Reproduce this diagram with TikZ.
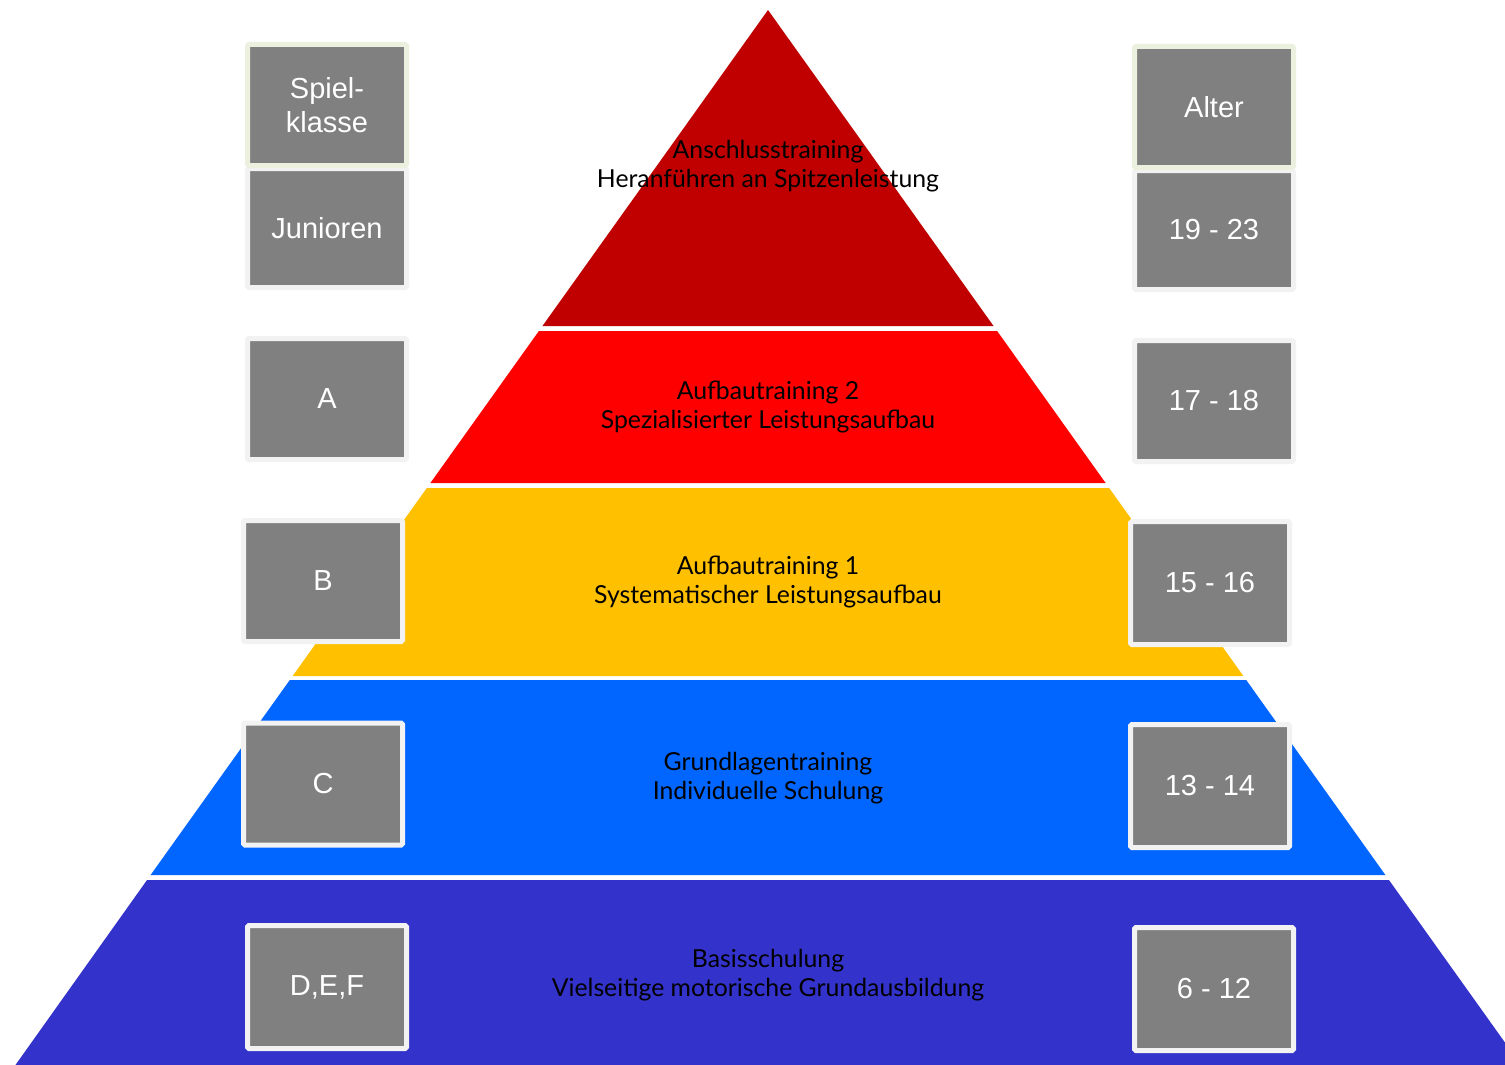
\documentclass[tikz,border=0pt]{standalone}
\usepackage{fontspec}
\setmainfont{Liberation Sans}
\newfontfamily\bandfont{Lato}
\definecolor{bandA}{HTML}{C00000}
\definecolor{bandB}{HTML}{FF0000}
\definecolor{bandC}{HTML}{FFC000}
\definecolor{bandD}{HTML}{0066FF}
\definecolor{bandE}{HTML}{3333CC}
\definecolor{boxgray}{HTML}{808080}
\definecolor{boxedge}{HTML}{F2F2F2}
\definecolor{headedge}{HTML}{EBF1DE}
\tikzset{
  gbox/.style={draw=boxedge, line width=5pt, fill=boxgray, minimum width=159pt,
    minimum height=121pt, inner sep=0pt, text=white, align=center,
    font=\fontsize{29}{34}\selectfont, rounded corners=1.5pt},
  hbox/.style={gbox, draw=headedge},
  bandtext/.style={align=center, text=black, inner sep=0pt,
    font=\bandfont\fontsize{24.8}{29}\selectfont}
}
\begin{document}
\begin{tikzpicture}[x=1pt,y=-1pt]
\useasboundingbox (0,0) rectangle (1505,1065);
\fill[white] (0,0) rectangle (1505,1065);
\begin{scope}
\clip (0,0) rectangle (1505,1065);
\fill[bandA] (768,10) -- (993.54,326) -- (542.46,326) -- cycle;
\fill[bandB] (538.89,331) -- (997.11,331) -- (1105.6,483) -- (430.4,483) -- cycle;
\fill[bandC] (426.83,488) -- (1109.17,488) -- (1243.35,676) -- (292.65,676) -- cycle;
\fill[bandD] (289.79,680) -- (1246.21,680) -- (1385.39,875) -- (150.61,875) -- cycle;
\fill[bandE] (147.05,880) -- (1388.95,880) -- (1530,1077.6) -- (6.5,1077.6) -- cycle;
\end{scope}

% band texts
\node[bandtext] (t1) at (768,166) {Anschlusstraining\\Heranführen an Spitzenleistung};
\node[bandtext] (t2) at (768,407) {Aufbautraining 2\\Spezialisierter Leistungsaufbau};
\node[bandtext] (t3) at (768,582) {Aufbautraining 1\\Systematischer Leistungsaufbau};
\node[bandtext] (t4) at (768,778) {Grundlagentraining\\Individuelle Schulung};
\node[bandtext] (t5) at (768,975) {Basisschulung\\Vielseitige motorische Grundausbildung};

% left column
\node[gbox, minimum height=119pt] (jun) at (327,228) {Junioren};
\node[hbox] (spk) at (327,105) {Spiel-\\klasse};
\node[gbox] (ka) at (327,399) {A};
\node[gbox] (kb) at (323,581) {B};
\node[gbox, minimum height=122pt] (kc) at (323,784) {C};
\node[gbox, minimum height=123pt] (kd) at (327,987) {D,E,F};

% right column
\node[gbox, minimum height=119pt] (a1) at (1214,230) {19 - 23};
\node[hbox] (alt) at (1214,107) {Alter};
\node[gbox] (a2) at (1214,401) {17 - 18};
\node[gbox, minimum height=123pt] (a3) at (1210,583) {15 - 16};
\node[gbox, minimum height=123pt] (a4) at (1210,786) {13 - 14};
\node[gbox, minimum height=123pt] (a5) at (1214,989) {6 - 12};
\end{tikzpicture}
\end{document}
